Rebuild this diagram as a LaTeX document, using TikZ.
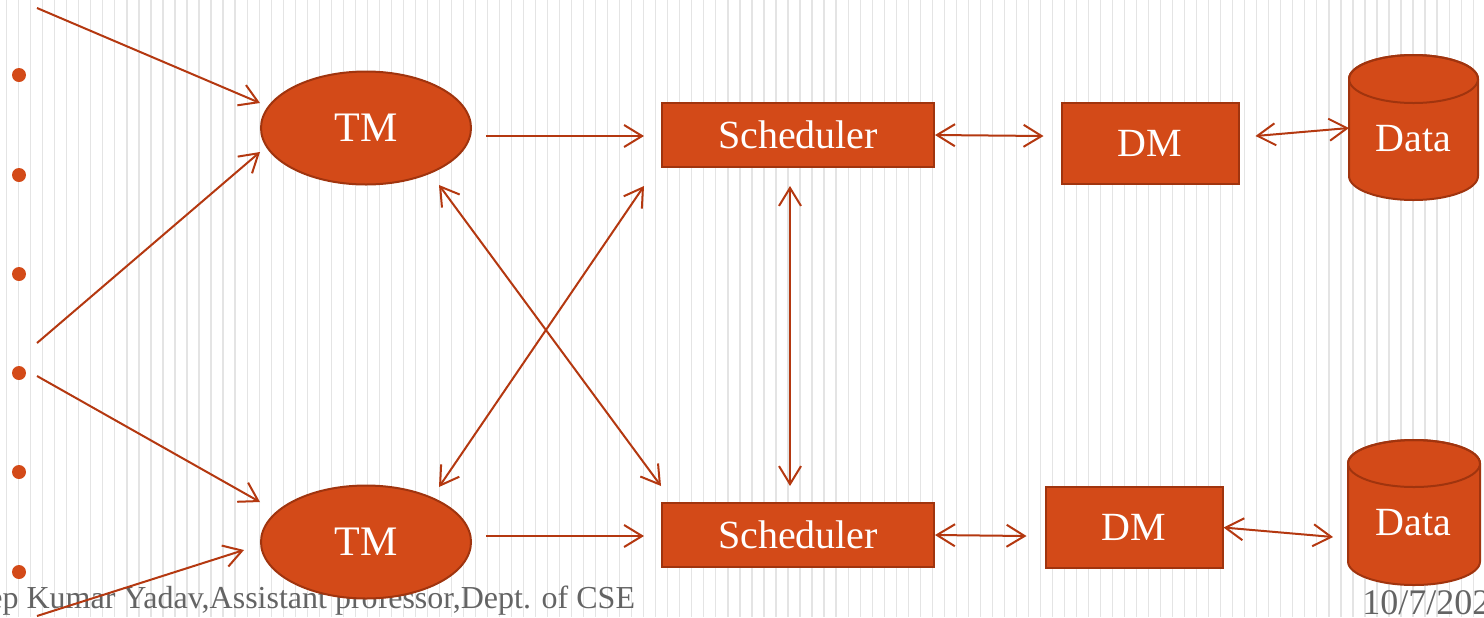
\documentclass[tikz,border=0pt]{standalone}
\usepackage{fontspec}
\setmainfont{Liberation Serif}
\usetikzlibrary{arrows.meta,calc,shapes.geometric}
\definecolor{fillor}{RGB}{211,74,24}
\definecolor{bordor}{RGB}{160,52,14}
\definecolor{arror}{RGB}{180,56,16}
\definecolor{stripe}{RGB}{228,228,228}
\definecolor{foot}{RGB}{100,100,100}
\begin{document}
\begin{tikzpicture}[x=0.5pt,y=-0.5pt,
  tip/.tip={Straight Barb[length=9pt,width=11pt,line width=1pt]},
  arr/.style={draw=arror, line width=1pt, -tip},
  darr/.style={draw=arror, line width=1pt, tip-tip},
  blob/.style={fill=fillor, draw=bordor, line width=1pt, text=white, inner sep=0pt},
  lbl/.style={font=\fontsize{20}{24}\selectfont},
  tmnode/.style={blob, ellipse, minimum width=105pt, minimum height=56.5pt, font=\fontsize{21}{25}\selectfont},
  schnode/.style={blob, rectangle, minimum width=136pt, minimum height=32pt, lbl},
  dmnode/.style={blob, rectangle, minimum width=88.5pt, minimum height=40.5pt, lbl},
  bullet/.style={circle, fill=fillor, minimum size=7pt, inner sep=0pt},
  foottext/.style={text=foot, inner sep=0pt, anchor=base west}
]
\useasboundingbox (0,0) rectangle (1484,617);
\clip (0,0) rectangle (1484,617);
\fill[white] (0,0) rectangle (1484,617);
\foreach \i in {0,...,123}
  \draw[stripe, line width=0.6pt] ({6.7+12.02*\i},0) -- ({6.7+12.02*\i},617);

% footer
\node[foottext, font=\fontsize{16}{19}\selectfont] (foot1) at (-12,608) {ep Kumar Yadav,Assistant professor,Dept. of CSE};
\node[foottext, font=\fontsize{18}{21}\selectfont] (foot2) at (1362,614) {10/7/202};

% bullets
\foreach \y [count=\k] in {75,175,274,373,472,572}
  \node[bullet] (b\k) at (19,\y) {};

% nodes
\node[tmnode] (tm1) at (366,128) {TM};
\node[tmnode] (tm2) at (366,542) {TM};
\node[schnode] (sch1) at (798,135) {Scheduler};
\node[schnode] (sch2) at (798,535) {Scheduler};
\node[dmnode] (dm1) at (1150,143.5) {DM};
\node[dmnode] (dm2) at (1134,527.5) {DM};

% data cylinders
\path[blob] (1349,79) -- (1349,176) arc[start angle=180, end angle=0, x radius=64.5, y radius=24]
  -- (1478,79) arc[start angle=360, end angle=180, x radius=64.5, y radius=24] -- cycle;
\draw[bordor, line width=1pt] (1413.5,79) ellipse[x radius=64.5, y radius=24];
\node[lbl, text=white] (data1) at (1413.5,139) {Data};
\coordinate (d1w) at (1349,128);

\path[blob] (1348,463.5) -- (1348,561.5) arc[start angle=180, end angle=0, x radius=66, y radius=23.5]
  -- (1480,463.5) arc[start angle=360, end angle=180, x radius=66, y radius=23.5] -- cycle;
\draw[bordor, line width=1pt] (1414,463.5) ellipse[x radius=66, y radius=23.5];
\node[lbl, text=white] (data2) at (1413.5,523) {Data};
\coordinate (d2w) at (1333,537);

% incoming
\coordinate (in1) at (37,8);
\coordinate (in2) at (37,343);
\coordinate (in3) at (37,376);
\coordinate (in4) at (37,616);
\draw[arr] (in1) -- ($(tm1.west)+(0,-25)$);
\draw[arr] (in2) -- ($(tm1.west)+(0,24)$);
\draw[arr] (in3) -- ($(tm2.west)+(0,-40)$);
\draw[arr] (in4) -- ($(tm2.west)+(-16,8)$);

% TM -> Scheduler
\draw[arr] ($(tm1.east)+(14,8)$) -- ($(sch1.west)+(-17,1)$);
\draw[arr] ($(tm2.east)+(14,-6)$) -- ($(sch2.west)+(-17,1)$);

% crossing
\draw[darr] ($(tm1.center)+(73,57)$) -- ($(sch2.north west)+(0,-16)$);
\draw[darr] ($(tm2.center)+(73,-55)$) -- ($(sch1.south west)+(-17,18)$);

% scheduler vertical
\draw[darr] ($(sch1.south)+(-8,18)$) -- ($(sch2.north)+(-8,-16)$);

% scheduler <-> DM
\draw[darr] (sch1.east) -- ($(dm1.west)+(-17,-7.5)$);
\draw[darr] (sch2.east) -- ($(dm2.west)+(-18,8.5)$);

% DM <-> Data
\draw[darr] ($(dm1.east)+(16,-7.5)$) -- (d1w);
\draw[darr] (dm2.east) -- (d2w);
\end{tikzpicture}
\end{document}
